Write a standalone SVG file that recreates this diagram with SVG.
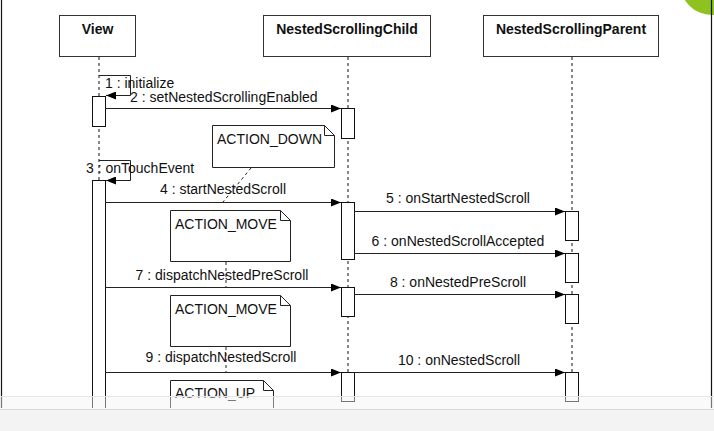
<svg xmlns="http://www.w3.org/2000/svg" width="714" height="431" viewBox="0 0 714 431">
<style>
text{font-family:"Liberation Sans",Arial,sans-serif;font-size:14px;fill:#111}
.title{font-weight:bold;text-anchor:middle}
.box{fill:#fff;stroke:#333;stroke-width:1}
.life{stroke:#111;stroke-width:1;stroke-dasharray:3 3;fill:none}
.act{fill:#fff;stroke:#111;stroke-width:1}
.msg{stroke:#222;stroke-width:1;fill:none}
.note{fill:#fff;stroke:#222;stroke-width:1}
.link{stroke:#222;stroke-width:1;stroke-dasharray:3 3;fill:none}
.lbl{text-anchor:middle}
</style>
<defs>
<marker id="arr" viewBox="0 0 10 8" refX="10" refY="4" markerWidth="10" markerHeight="8" markerUnits="userSpaceOnUse" orient="auto">
<path d="M0,0 L10,4 L0,8 Z" fill="#000"/>
</marker>
<clipPath id="clip"><rect x="0" y="0" width="714" height="408"/></clipPath>
</defs>
<rect x="0" y="0" width="714" height="431" fill="#fff"/>
<circle cx="712" cy="-17" r="32" fill="#8dc21f"/>
<g clip-path="url(#clip)">
<g id="lifelines">
<line class="life" x1="99" y1="57" x2="99" y2="408"/>
<line class="life" x1="348" y1="57" x2="348" y2="405"/>
<line class="life" x1="572" y1="57" x2="572" y2="405"/>
</g>
<g id="view">
<rect class="box" x="59.5" y="15.5" width="76" height="41"/>
<text class="title" x="97.5" y="34">View</text>
</g>
<g id="child">
<rect class="box" x="263.5" y="15.5" width="167" height="41"/>
<text class="title" x="347" y="34">NestedScrollingChild</text>
</g>
<g id="parent">
<rect class="box" x="483.5" y="15.5" width="175" height="41"/>
<text class="title" x="571" y="34">NestedScrollingParent</text>
</g>
<g id="activations">
<rect class="act" x="92.5" y="96.5" width="13" height="30"/>
<rect class="act" x="92.5" y="180.5" width="13" height="240"/>
<rect class="act" x="341.5" y="108.5" width="13" height="30"/>
<rect class="act" x="341.5" y="202.5" width="13" height="57"/>
<rect class="act" x="341.5" y="287.5" width="13" height="29"/>
<rect class="act" x="341.5" y="372.5" width="13" height="29"/>
<rect class="act" x="565.5" y="211.5" width="13" height="29"/>
<rect class="act" x="565.5" y="253.5" width="13" height="29"/>
<rect class="act" x="565.5" y="294.5" width="13" height="29"/>
<rect class="act" x="565.5" y="372.5" width="13" height="29"/>
</g>
<g id="notes">
<g id="note-down">
<path class="note" d="M212.5,125.5 H324.5 L334.5,135.5 V167.5 H212.5 Z M324.5,125.5 V135.5 H334.5"/>
<text x="217" y="144">ACTION_DOWN</text>
</g>
<g id="note-move1">
<path class="note" d="M170.5,210.5 H280.5 L290.5,220.5 V261.5 H170.5 Z M280.5,210.5 V220.5 H290.5"/>
<text x="175" y="229">ACTION_MOVE</text>
</g>
<g id="note-move2">
<path class="note" d="M170.5,295.5 H280.5 L290.5,305.5 V346.5 H170.5 Z M280.5,295.5 V305.5 H290.5"/>
<text x="175" y="314">ACTION_MOVE</text>
</g>
<g id="note-up">
<path class="note" d="M170.5,380.5 H263.5 L273.5,390.5 V430.5 H170.5 Z M263.5,380.5 V390.5 H273.5"/>
<text x="175" y="398">ACTION_UP</text>
</g>
</g>
<g id="connectors">
<path class="link" d="M251,168 L223,202"/>
<path class="link" d="M226,262 L226,287"/>
<path class="link" d="M226,347 L226,372"/>
<path class="msg" d="M99,75.5 H130.5 V95.5 H106" marker-end="url(#arr)"/>
<text x="105" y="88">1 : initialize</text>
<line class="msg" x1="105" y1="108.5" x2="341" y2="108.5" marker-end="url(#arr)"/>
<text x="130" y="102">2 : setNestedScrollingEnabled</text>
<path class="msg" d="M99,160.5 H130.5 V180.5 H106" marker-end="url(#arr)"/>
<text x="86" y="173">3 : onTouchEvent</text>
<line class="msg" x1="105" y1="202.5" x2="341" y2="202.5" marker-end="url(#arr)"/>
<text class="lbl" x="223" y="194">4 : startNestedScroll</text>
<line class="msg" x1="354" y1="211.5" x2="565" y2="211.5" marker-end="url(#arr)"/>
<text class="lbl" x="458" y="203">5 : onStartNestedScroll</text>
<line class="msg" x1="354" y1="253.5" x2="565" y2="253.5" marker-end="url(#arr)"/>
<text class="lbl" x="458" y="246">6 : onNestedScrollAccepted</text>
<line class="msg" x1="105" y1="287.5" x2="341" y2="287.5" marker-end="url(#arr)"/>
<text class="lbl" x="222" y="280">7 : dispatchNestedPreScroll</text>
<line class="msg" x1="354" y1="294.5" x2="565" y2="294.5" marker-end="url(#arr)"/>
<text class="lbl" x="458" y="287">8 : onNestedPreScroll</text>
<line class="msg" x1="105" y1="372.5" x2="341" y2="372.5" marker-end="url(#arr)"/>
<text class="lbl" x="221" y="362">9 : dispatchNestedScroll</text>
<line class="msg" x1="354" y1="372.5" x2="565" y2="372.5" marker-end="url(#arr)"/>
<text class="lbl" x="459" y="365">10 : onNestedScroll</text>
</g>
<line x1="1.5" y1="0" x2="1.5" y2="408" stroke="#111" stroke-width="1.2"/>
<line x1="711.5" y1="0" x2="711.5" y2="408" stroke="#111" stroke-width="1.2"/>
</g>
<rect x="0" y="396" width="714" height="13" fill="#f4f4f4" opacity="0.45"/>
<line x1="0" y1="396.5" x2="714" y2="396.5" stroke="#e6e6e6"/>
<rect x="0" y="409" width="714" height="22" fill="#f3f3f3"/>
<line x1="0" y1="409.5" x2="714" y2="409.5" stroke="#dadada"/>
</svg>
